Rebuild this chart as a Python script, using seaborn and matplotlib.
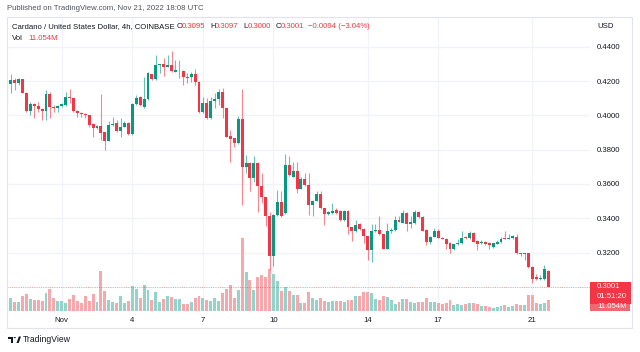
import matplotlib
matplotlib.use("Agg")
import matplotlib.pyplot as plt
from matplotlib.patches import Rectangle, Polygon, Circle
import numpy as np
import seaborn as sns

# ADA/USD 4h candles, Oct 29 16:00 -> Nov 21 16:00 UTC
opens = [
    0.4090, 0.4183, 0.4206, 0.4190, 0.4210, 0.4132, 0.4026, 0.4066, 0.4057, 0.4037,
    0.4024, 0.4124, 0.4051, 0.4041, 0.4057, 0.4059, 0.4109, 0.4099, 0.4027, 0.4016,
    0.4010, 0.4000, 0.3948, 0.3925, 0.3938, 0.3905, 0.3853, 0.3942, 0.3954, 0.3909,
    0.3934, 0.3958, 0.3890, 0.4066, 0.4105, 0.4051, 0.4093, 0.4239, 0.4210, 0.4293,
    0.4299, 0.4284, 0.4293, 0.4254, 0.4262, 0.4260, 0.4221, 0.4221, 0.4241, 0.4192,
    0.4018, 0.4070, 0.3983, 0.4084, 0.4095, 0.4138, 0.4041, 0.3880, 0.3866, 0.3837,
    0.3979, 0.3696, 0.3721, 0.3637, 0.3721, 0.3585, 0.3523, 0.3411, 0.3178, 0.3416,
    0.3492, 0.3430, 0.3711, 0.3643, 0.3676, 0.3572, 0.3630, 0.3591, 0.3479, 0.3502,
    0.3542, 0.3459, 0.3426, 0.3430, 0.3449, 0.3440, 0.3391, 0.3440, 0.3346, 0.3323,
    0.3366, 0.3337, 0.3294, 0.3214, 0.3325, 0.3334, 0.3305, 0.3222, 0.3325, 0.3330,
    0.3387, 0.3373, 0.3431, 0.3369, 0.3371, 0.3439, 0.3406, 0.3334, 0.3260, 0.3292,
    0.3325, 0.3286, 0.3280, 0.3257, 0.3218, 0.3247, 0.3253, 0.3290, 0.3282, 0.3315,
    0.3266, 0.3253, 0.3261, 0.3257, 0.3231, 0.3251, 0.3261, 0.3284, 0.3280, 0.3284,
    0.3290, 0.3198, 0.3189, 0.3198, 0.3117, 0.3057, 0.3045, 0.3047, 0.3095,
]
highs = [
    0.4200, 0.4239, 0.4220, 0.4216, 0.4212, 0.4134, 0.4080, 0.4070, 0.4080, 0.4041,
    0.4148, 0.4138, 0.4060, 0.4060, 0.4070, 0.4134, 0.4152, 0.4103, 0.4030, 0.4022,
    0.4016, 0.4002, 0.3950, 0.3942, 0.4123, 0.3905, 0.3964, 0.3993, 0.3973, 0.3983,
    0.3964, 0.3960, 0.4070, 0.4120, 0.4110, 0.4221, 0.4250, 0.4240, 0.4351, 0.4302,
    0.4332, 0.4351, 0.4375, 0.4322, 0.4322, 0.4265, 0.4245, 0.4254, 0.4268, 0.4200,
    0.4105, 0.4099, 0.4105, 0.4132, 0.4152, 0.4158, 0.4045, 0.3915, 0.3870, 0.3996,
    0.4154, 0.3769, 0.3725, 0.3765, 0.3727, 0.3663, 0.3525, 0.3434, 0.3425, 0.3566,
    0.3556, 0.3773, 0.3760, 0.3727, 0.3727, 0.3643, 0.3663, 0.3663, 0.3505, 0.3556,
    0.3556, 0.3462, 0.3440, 0.3488, 0.3459, 0.3445, 0.3445, 0.3445, 0.3350, 0.3391,
    0.3370, 0.3340, 0.3296, 0.3367, 0.3369, 0.3412, 0.3310, 0.3373, 0.3340, 0.3412,
    0.3412, 0.3447, 0.3435, 0.3412, 0.3445, 0.3443, 0.3410, 0.3336, 0.3296, 0.3344,
    0.3338, 0.3290, 0.3284, 0.3260, 0.3250, 0.3280, 0.3325, 0.3294, 0.3325, 0.3319,
    0.3270, 0.3272, 0.3265, 0.3260, 0.3256, 0.3270, 0.3290, 0.3325, 0.3305, 0.3300,
    0.3305, 0.3200, 0.3200, 0.3200, 0.3120, 0.3076, 0.3067, 0.3125, 0.3097,
]
lows = [
    0.4080, 0.4128, 0.4148, 0.4177, 0.4128, 0.4022, 0.4002, 0.3983, 0.4022, 0.3973,
    0.3973, 0.3983, 0.4022, 0.4022, 0.4050, 0.4055, 0.4070, 0.4022, 0.3993, 0.3993,
    0.3983, 0.3934, 0.3876, 0.3920, 0.3857, 0.3798, 0.3850, 0.3940, 0.3905, 0.3876,
    0.3930, 0.3885, 0.3885, 0.4060, 0.4055, 0.4040, 0.4090, 0.4206, 0.4206, 0.4245,
    0.4229, 0.4280, 0.4255, 0.4250, 0.4216, 0.4177, 0.4187, 0.4196, 0.4177, 0.4012,
    0.4012, 0.3980, 0.3980, 0.4041, 0.4060, 0.3983, 0.3872, 0.3727, 0.3818, 0.3835,
    0.3475, 0.3663, 0.3556, 0.3614, 0.3436, 0.3488, 0.3352, 0.3100, 0.3120, 0.3410,
    0.3405, 0.3425, 0.3645, 0.3640, 0.3546, 0.3568, 0.3585, 0.3420, 0.3414, 0.3498,
    0.3455, 0.3358, 0.3420, 0.3425, 0.3425, 0.3385, 0.3385, 0.3308, 0.3265, 0.3320,
    0.3330, 0.3255, 0.3158, 0.3144, 0.3320, 0.3300, 0.3218, 0.3218, 0.3315, 0.3325,
    0.3375, 0.3370, 0.3325, 0.3344, 0.3367, 0.3400, 0.3325, 0.3241, 0.3247, 0.3288,
    0.3282, 0.3276, 0.3218, 0.3195, 0.3214, 0.3243, 0.3250, 0.3278, 0.3278, 0.3260,
    0.3212, 0.3250, 0.3243, 0.3222, 0.3228, 0.3249, 0.3257, 0.3276, 0.3276, 0.3280,
    0.3190, 0.3179, 0.3156, 0.3110, 0.3024, 0.3040, 0.3040, 0.3040, 0.3000,
]
closes = [
    0.4187, 0.4206, 0.4190, 0.4210, 0.4132, 0.4026, 0.4066, 0.4057, 0.4037, 0.4024,
    0.4124, 0.4051, 0.4041, 0.4057, 0.4064, 0.4109, 0.4099, 0.4027, 0.4016, 0.4010,
    0.4000, 0.3944, 0.3925, 0.3938, 0.3899, 0.3853, 0.3942, 0.3950, 0.3909, 0.3934,
    0.3958, 0.3890, 0.4066, 0.4103, 0.4060, 0.4093, 0.4245, 0.4210, 0.4293, 0.4299,
    0.4284, 0.4293, 0.4260, 0.4264, 0.4264, 0.4221, 0.4216, 0.4241, 0.4192, 0.4018,
    0.4070, 0.3987, 0.4084, 0.4095, 0.4138, 0.4041, 0.3876, 0.3862, 0.3837, 0.3979,
    0.3696, 0.3721, 0.3637, 0.3721, 0.3585, 0.3523, 0.3411, 0.3178, 0.3420, 0.3492,
    0.3411, 0.3711, 0.3649, 0.3676, 0.3572, 0.3630, 0.3591, 0.3479, 0.3502, 0.3542,
    0.3459, 0.3426, 0.3436, 0.3443, 0.3430, 0.3391, 0.3440, 0.3346, 0.3323, 0.3362,
    0.3337, 0.3294, 0.3213, 0.3325, 0.3334, 0.3305, 0.3222, 0.3325, 0.3334, 0.3387,
    0.3379, 0.3431, 0.3369, 0.3375, 0.3439, 0.3406, 0.3328, 0.3260, 0.3292, 0.3325,
    0.3286, 0.3280, 0.3251, 0.3218, 0.3247, 0.3257, 0.3286, 0.3282, 0.3315, 0.3263,
    0.3247, 0.3261, 0.3247, 0.3243, 0.3253, 0.3261, 0.3280, 0.3280, 0.3286, 0.3295,
    0.3195, 0.3189, 0.3196, 0.3117, 0.3047, 0.3047, 0.3053, 0.3105, 0.3001,
]
# volume in millions ADA
volumes = [
    39, 13, 9, 9, 15, 17, 12, 11, 11, 10,
    18, 22, 13, 10, 10, 8, 12, 16, 10, 8,
    15, 10, 17, 9, 40, 20, 11, 9, 8, 15,
    8, 10, 25, 22, 13, 26, 21, 11, 19, 9,
    12, 15, 14, 12, 12, 7, 7, 9, 13, 15,
    13, 11, 10, 13, 10, 18, 22, 26, 13, 21,
    73, 39, 31, 21, 34, 36, 34, 42, 37, 30,
    20, 24, 20, 16, 16, 8, 8, 19, 13, 11,
    13, 10, 9, 10, 10, 10, 9, 11, 11, 15,
    15, 19, 19, 18, 12, 11, 15, 14, 11, 7,
    9, 12, 12, 9, 8, 9, 9, 13, 9, 9,
    8, 7, 8, 11, 6, 7, 6, 7, 8, 8,
    7, 5, 5, 4, 3, 4, 5, 6, 4, 5,
    7, 6, 6, 16, 16, 8, 7, 8, 11.054,
]

day_ticks = [14, 32, 50, 68, 92, 110, 134]
day_labels = ["Nov", "4", "7", "10", "14", "17", "21"]
price_ticks = [0.32, 0.34, 0.36, 0.38, 0.40, 0.42, 0.44]

UP, DOWN = "#089981", "#f23645"
UP_VOL, DOWN_VOL = "#92d4c9", "#f8a7ad"
TXT = "#131722"

sns.set_theme(style="white")
plt.rcParams["font.family"] = ["Liberation Sans", "DejaVu Sans"]
FS = 5.6

W, H = 640, 352
def fx(x):
    return x / W
def fy(y):
    return 1 - y / H

idx = np.arange(len(closes))
o = np.array(opens)
c = np.array(closes)
up = c >= o
colors = np.where(up, UP, DOWN)
direction = np.where(up, "up", "down")

fig = plt.figure(figsize=(6.4, 3.52), dpi=100)
pos = [fx(7), fy(311), fx(590) - fx(7), fy(17) - fy(311)]
xlim = (0.05, 148.7)
ylim = (0.28589, 0.45732)

# grid + axes labels
ax = fig.add_axes(pos)
ax.set_xlim(*xlim)
ax.set_ylim(*ylim)
for p in price_ticks:
    ax.axhline(p, color="#f0f3fa", lw=0.9, zorder=0)
for t in day_ticks:
    ax.axvline(t, color="#f0f3fa", lw=0.9, zorder=0)
ax.yaxis.tick_right()
ax.set_yticks(price_ticks, labels=[f"{p:.4f}" for p in price_ticks])
ax.set_xticks(day_ticks, labels=day_labels)
ax.tick_params(length=0, labelsize=FS, labelcolor=TXT)
ax.tick_params(axis="y", pad=5)
ax.tick_params(axis="x", pad=4)
for s in ax.spines.values():
    s.set_visible(False)

# volume overlay
vax = fig.add_axes(pos)
vax.patch.set_visible(False)
sns.barplot(x=idx, y=volumes, hue=direction, palette={"up": UP_VOL, "down": DOWN_VOL},
            native_scale=True, width=0.75, dodge=False, legend=False,
            errorbar=None, saturation=1, linewidth=0, ax=vax)
vax.set_xlim(*xlim)
vax.set_ylim(0, 294)
vax.axis("off")

# candles
cax = fig.add_axes(pos)
cax.patch.set_visible(False)
cax.axhline(closes[-1], color=DOWN, lw=0.7, ls=(0, (1, 1.3)), alpha=0.55, zorder=0)
cax.vlines(idx, lows, highs, colors=colors, lw=0.8, alpha=0.6, zorder=1)
cax.bar(idx, c - o, bottom=o, width=0.75, color=colors, linewidth=0, zorder=2)
cax.set_xlim(*xlim)
cax.set_ylim(*ylim)
cax.axis("off")

# outer frame
fig.add_artist(Rectangle((fx(7), fy(328)), fx(632) - fx(7), fy(17) - fy(328),
                         transform=fig.transFigure, fill=False, ec="#e0e3eb", lw=0.8))

# header texts
fig.text(fx(7), fy(9), "Published on TradingView.com, Nov 21, 2022 18:08 UTC",
         fontsize=FS, color="#50535e", va="center")
fig.text(fx(12), fy(27), "Cardano / United States Dollar, 4h, COINBASE",
         fontsize=FS, color=TXT, va="center")
ohlc = [("O", 177, "0.3095", 182), ("H", 210, "0.3097", 215),
        ("L", 243.5, "0.3000", 248), ("C", 275.5, "0.3001", 280.5)]
for key, kx, val, vx in ohlc:
    fig.text(fx(kx), fy(27), key, fontsize=FS, color=TXT, va="center")
    fig.text(fx(vx), fy(27), val, fontsize=FS, color=DOWN, va="center")
fig.text(fx(308.5), fy(27), "\u22120.0094 (\u22123.04%)", fontsize=FS, color=DOWN, va="center")
fig.text(fx(12), fy(39), "Vol", fontsize=FS, color=TXT, va="center")
fig.text(fx(28), fy(39), "11.054M", fontsize=FS, color=DOWN, va="center")
fig.text(fx(597), fy(27), "USD", fontsize=FS, color=TXT, va="center")

# last price / countdown / volume labels
fig.add_artist(Rectangle((fx(590), fy(304)), fx(631) - fx(590), fy(281.7) - fy(304),
                         transform=fig.transFigure, color=DOWN, lw=0))
fig.add_artist(Rectangle((fx(590), fy(311)), fx(629.5) - fx(590), fy(304) - fy(311),
                         transform=fig.transFigure, color="#f26670", lw=0))
fig.text(fx(597), fy(287), "0.3001", fontsize=FS, color="white", va="center")
fig.text(fx(597), fy(296.5), "01:51:20", fontsize=FS, color="white", va="center")
fig.text(fx(597), fy(306.5), "11.054M", fontsize=FS, color="white", va="center")

# TradingView logo
fig.add_artist(Polygon([(fx(8), fy(336.5)), (fx(13), fy(336.5)), (fx(13), fy(343)),
                        (fx(10.5), fy(343)), (fx(10.5), fy(338.5)), (fx(8), fy(338.5))],
                       closed=True, transform=fig.transFigure, color=TXT, lw=0))
fig.add_artist(Circle((fx(14.8), fy(337.6)), 1.1 / W, transform=fig.transFigure, color=TXT, lw=0))
fig.add_artist(Polygon([(fx(16.5), fy(343)), (fx(18.8), fy(336.5)), (fx(21), fy(336.5)),
                        (fx(18.7), fy(343))],
                       closed=True, transform=fig.transFigure, color=TXT, lw=0))
fig.text(fx(23), fy(340), "TradingView", fontsize=6.2, color=TXT, va="center")

fig.savefig("out.png", dpi=100, facecolor="white")
